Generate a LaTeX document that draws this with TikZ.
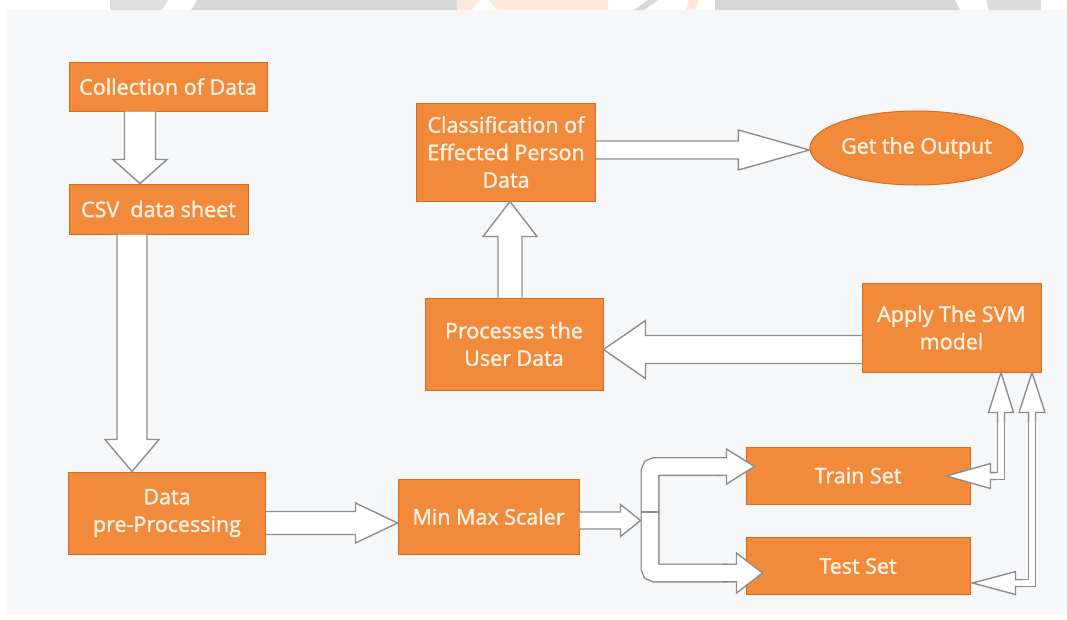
\documentclass[tikz,border=0pt]{standalone}
\usepackage{fontspec}
\newfontfamily\boxfont{Open Sans}[FakeBold=1.6]
\usetikzlibrary{calc,shapes.geometric}
\definecolor{org}{HTML}{F28A3C}
\definecolor{orgline}{HTML}{D46C26}
\definecolor{txt}{HTML}{FFF2E2}
\definecolor{arrgray}{HTML}{8E8E8E}
\definecolor{panel}{HTML}{F6F7F9}
\definecolor{wmgray}{HTML}{D8D8D8}
\definecolor{wmorange}{HTML}{FDE9DC}
\newcommand\blockarrow[5]{%
  \path ($(#2)!#5!(#1)$) coordinate (bap);
  \filldraw[barrow] ($(#1)!#3!90:(#2)$) -- ($(bap)!#3!-90:(#1)$) -- ($(bap)!#4!-90:(#1)$) -- (#2)
     -- ($(bap)!#4!90:(#1)$) -- ($(bap)!#3!90:(#1)$) -- ($(#1)!#3!-90:(#2)$);
}
\tikzset{
  box/.style={draw=orgline, line width=1pt, fill=org, text=txt,
    font=\boxfont\fontsize{21.5}{27.5}\selectfont, align=center, inner sep=0pt},
  barrow/.style={fill=white, draw=arrgray, line width=1.4pt, line join=miter},
  dshaft/.style={draw=arrgray, line width=1.4pt, double=white, double distance=16.2pt, rounded corners=5pt},
  nshaft/.style={draw=arrgray, line width=1.3pt, double=white, double distance=5.6pt},
}
\begin{document}
\begin{tikzpicture}[x=1pt,y=-1pt]
\useasboundingbox (0,0) rectangle (1067,619);
% background panel
\fill[panel] (7,10) rectangle (1067,614);
% watermark remnants at top
\fill[wmgray!85] (110,0) -- (168,0) -- (162,10) -- (110,10) -- cycle;
\fill[wmgray] (197,0) -- (457,0) -- (457,10) -- (191,10) -- cycle;
\fill[wmorange] (457,0) -- (608,0) -- (608,10) -- (457,10) -- cycle;
\fill[white] (480,0) -- (472,10) -- (497,10) -- (488,0) -- cycle;
\fill[wmgray] (648,0) -- (658,0) -- (644,10) -- (634,10) -- cycle;
\fill[wmorange] (689,0) -- (699,0) -- (695,10) -- (686,10) -- cycle;
\fill[wmgray] (715,0) -- (955,0) -- (960,10) -- (715,10) -- cycle;
\fill[wmgray!90] (986,0) -- (1041,0) -- (1041,10) -- (989,10) -- cycle;

% nodes
\node[box, minimum width=198pt, minimum height=49pt] (coll) at (168,86.5) {Collection of Data};
\node[box, minimum width=179pt, minimum height=50pt] (csv) at (158.5,209) {CSV\ \ data sheet};
\node[box, minimum width=197pt, minimum height=82pt] (pre) at (167,513) {Data\\pre-Processing};
\node[box, minimum width=181pt, minimum height=75pt] (mm) at (488.5,516.5) {Min Max Scaler};
\node[box, minimum width=179pt, minimum height=98pt] (cls) at (506,152) {Classification of\\Effected Person\\Data};
\node[box, ellipse, minimum width=199pt, minimum height=74pt] (out) at (916.5,148) {Get the Output};
\node[box, minimum width=178pt, minimum height=92pt] (proc) at (514,344) {Processes the\\User Data};
\node[box, minimum width=179pt, minimum height=89pt] (svm) at (951.5,327.5) {Apply The SVM\\model};
\node[box, minimum width=224pt, minimum height=57pt] (train) at (858,475.5) {Train Set};
\node[box, minimum width=224pt, minimum height=57pt] (test) at (858,566) {Test Set};

% straight block arrows
\coordinate (a1s) at ($(coll.south west)+(71.5,0)$);
\coordinate (a1t) at ($(csv.north west)+(71.5,0)$);
\blockarrow{a1s}{a1t}{15.5pt}{27pt}{24pt}
\coordinate (a2s) at ($(csv.south west)+(63.5,0)$);
\coordinate (a2t) at ($(pre.north west)+(64,0)$);
\blockarrow{a2s}{a2t}{15pt}{27pt}{32pt}
\coordinate (a3s) at ($(pre.east)+(0,10)$);
\coordinate (a3t) at ($(mm.west)+(0,6.5)$);
\blockarrow{a3s}{a3t}{11.5pt}{20pt}{42pt}
\coordinate (sp) at ($(mm.east)+(70.5,-4.5)$);
\coordinate (a4s) at ($(mm.east)+(0,4)$);
\coordinate (a4t) at ($(mm.east)+(61,4)$);
\blockarrow{a4s}{a4t}{8.5pt}{16pt}{20pt}
\coordinate (a5s) at ($(cls.east)+(0,-2)$);
\coordinate (a5t) at ($(out.west)+(0,2)$);
\blockarrow{a5s}{a5t}{9pt}{20pt}{71pt}
\coordinate (a6s) at ($(proc.north)+(-4,0)$);
\coordinate (a6t) at ($(cls.south)+(4,0)$);
\blockarrow{a6s}{a6t}{12pt}{27pt}{35pt}
\coordinate (a7s) at ($(svm.west)+(0,22)$);
\coordinate (a7t) at ($(proc.east)+(0,5.5)$);
\blockarrow{a7s}{a7t}{14pt}{29pt}{42pt}

% split from Min Max Scaler to Train / Test
\coordinate (trt) at ($(train.west)+(9,-9)$);
\coordinate (tst) at ($(test.west)+(17,7)$);
\draw[dshaft] (sp) -- (sp |- trt) -- ($(trt)+(-35,0)$);
\draw[dshaft] (sp) -- (sp |- tst) -- ($(tst)+(-35,0)$);
\draw[arrgray, line width=1.4pt] ($(sp)+(-9.5,0)$) -- ($(sp)+(9.5,0)$);
\coordinate (trb) at ($(trt)+(-40,0)$);
\coordinate (tsb) at ($(tst)+(-40,0)$);
\blockarrow{trb}{trt}{8.8pt}{17.5pt}{28pt}
\blockarrow{tsb}{tst}{8.8pt}{20pt}{26pt}

% links between SVM and Train / Test
\coordinate (tr1) at ($(svm.south)+(49.5,0)$);
\coordinate (tr2) at ($(train.east)+(-24,0.5)$);
\draw[nshaft] ($(tr1)+(0,35)$) -- (tr1 |- tr2) -- ($(tr2)+(40,0)$);
\coordinate (tr1s) at ($(tr1)+(0,50)$);
\coordinate (tr2s) at ($(tr2)+(50,0)$);
\blockarrow{tr1s}{tr1}{3.45pt}{12.5pt}{40pt}
\blockarrow{tr2s}{tr2}{3.45pt}{12.5pt}{44pt}
\coordinate (te1) at ($(svm.south)+(80.5,0)$);
\coordinate (te2) at ($(test.east)+(2,17)$);
\draw[nshaft] ($(te1)+(0,35)$) -- (te1 |- te2) -- ($(te2)+(38,0)$);
\coordinate (te1s) at ($(te1)+(0,50)$);
\coordinate (te2s) at ($(te2)+(50,0)$);
\blockarrow{te1s}{te1}{3.45pt}{13pt}{40pt}
\blockarrow{te2s}{te2}{3.45pt}{11.5pt}{43pt}
\end{tikzpicture}
\end{document}
